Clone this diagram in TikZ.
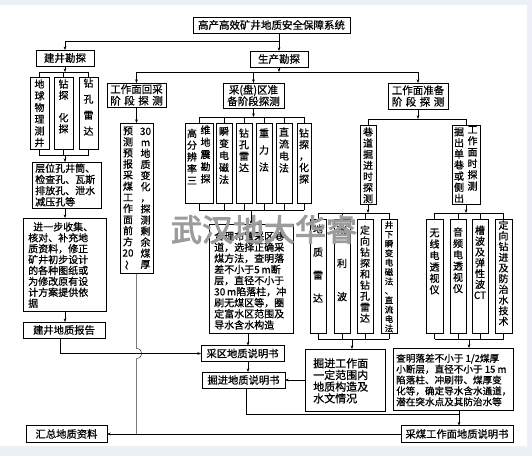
\documentclass[tikz,border=0pt]{standalone}
\usepackage{fontspec}
\usepackage{graphicx}
\setmainfont[FakeBold=0.8]{Noto Sans CJK SC}
\newfontfamily\wmfont[FakeBold=3]{Noto Sans CJK SC}
\usetikzlibrary{arrows.meta,calc}
\definecolor{bord}{HTML}{EDF1F7}
\definecolor{wmgray}{HTML}{9C9C9C}
\newcommand\fsz[2]{\fontsize{#1}{#2}\selectfont}
\newcommand\mybox[7][]{\node[bx,minimum width={(#5-#3)*1pt},minimum height={(#6-#4)*1pt},#1] (#2) at ({(#3+#5)/2},{(#4+#6)/2}) {#7};}
\tikzset{
 bx/.style={draw=black,line width=0.85pt,inner sep=0pt,outer sep=0pt,align=center,font=\fsz{10.3}{12}},
 vt/.style={inner sep=0pt,align=center,font=\fsz{10}{#1}},
 ht/.style={inner sep=0pt,align=left,anchor=west,font=\fsz{10}{#1}},
 ln/.style={line width=0.65pt,draw=black},
 arr/.style={ln,-{Stealth[length=3.6pt,width=2.8pt]}},
}
\begin{document}
\begin{tikzpicture}[x=1pt,y=-1pt]
\fill[bord] (0,0) rectangle (532,456);
\fill[white] (0,5) rectangle (527,446);
\useasboundingbox (0,0) rectangle (532,456);

% ---------- boxes ----------
\mybox[font=\fsz{10.5}{12}]{title}{193}{17}{350}{33}{高产高效矿井地质安全保障系统}
\mybox[font=\fsz{10.5}{12}]{jj}{36}{50}{94}{66}{建井勘探}
\mybox[font=\fsz{10.5}{12}]{sc}{250}{51}{308}{67}{生产勘探}
\mybox{jj1}{30}{77}{49}{149}{}
\mybox{jj2}{54}{77}{73}{149}{}
\mybox{jj3}{79}{77}{98}{149}{}
\mybox{cw}{32}{162}{101}{208}{}
\mybox{jb}{23}{218}{106}{311}{}
\mybox{jr}{23}{322}{105}{338}{建井地质报告}
\mybox{hz}{26}{425.5}{107}{442.5}{汇总地质资料}
\mybox[font=\fsz{10.5}{11.5}]{gh}{107}{83}{166}{107}{工作面回采\\\makebox[5em][s]{阶\hfil 段\hfil 探\hfil 测}}
\mybox{yc}{120}{123}{153}{273}{}
\mybox[font=\fsz{10.5}{11.5}]{cq}{223}{83}{284}{108}{采(盘)区准\\备阶段探测}
\mybox[font=\fsz{10.5}{11.5}]{gz}{388}{83}{448}{109}{工作面准备\\\makebox[5em][s]{阶\hfil 段\hfil 探\hfil 测}}
\mybox{s1}{185}{123}{213}{203}{}
\mybox{s2}{216}{123}{232}{203}{}
\mybox{s3}{236}{123}{252}{203}{}
\mybox{s4}{256}{123}{272}{203}{}
\mybox{s5}{276}{123}{292}{203}{}
\mybox{s6}{297}{123}{311}{203}{}
\mybox{big}{209}{224}{293}{333}{}
\mybox{cqs}{201}{345.5}{284}{361.5}{采区地质说明书}
\mybox{jxs}{202}{372}{285}{388}{掘进地质说明书}
\mybox{hd}{360}{125}{376}{204}{}
\mybox{gc}{452}{125}{480}{204}{}
\mybox{d1}{310}{219}{326}{333}{}
\mybox{d2}{334}{219}{350}{333}{}
\mybox{d3}{357}{219}{373}{333}{}
\mybox{d4}{381}{219}{397}{333}{}
\mybox{g1}{426}{219}{443}{333}{}
\mybox{g2}{450}{219}{466}{333}{}
\mybox{g3}{472}{219}{488}{333}{}
\mybox{g4}{495}{219}{512}{333}{}
\mybox{jw}{305}{349}{385}{411}{}
\mybox{cmq}{393}{348}{513}{410}{}
\mybox{cm}{401}{425.5}{513}{442.5}{采煤工作面地质说明书}

% ---------- texts ----------
\node[vt=11.7] (jj1-t) at (39.5,113.3) {地\\球\\物\\理\\测\\井};
\node[vt=11.2] (jj2-t) at (63.5,106.4) {钻\\探\\\mbox{}\\化\\探};
\node[vt=16] (jj3-t) at (88.5,107) {钻\\孔\\雷\\达};
\node[ht=11.2] (cw-t) at (35,185) {层位孔井筒、\\检查孔、瓦斯\\排放孔、泄水\\减压孔等};
\node[ht=10.9] (jb-t) at (28,265) {\hspace*{5pt}进一步收集、\\核对、补充地\\质资料，修正\\矿井初步设计\\的各种图纸或\\为修改原有设\\计方案提供依\\据};
\node[vt=11.1] (yc-l) at (128,198.3) {预\\测\\预\\报\\采\\煤\\工\\作\\面\\前\\方\\20\\\rotatebox[origin=c]{90}{～}};
\node[vt=11.1] (yc-r) at (145.5,198.3) {30\\m\\地\\质\\变\\化\\，\\探\\测\\剩\\余\\煤\\厚};
\node[vt=11.8] (s1-l) at (192,156.6) {高\\分\\辨\\率\\三};
\node[vt=12.2] (s1-r) at (205.5,154.4) {维\\地\\震\\勘\\探};
\node[vt=12] (s2-t) at (224,155.5) {瞬\\变\\电\\磁\\法};
\node[vt=11.5] (s3-t) at (244,150.3) {钻\\孔\\雷\\达};
\node[vt=17] (s4-t) at (264,150) {重\\力\\法};
\node[vt=12] (s5-t) at (284,150) {直\\流\\电\\法};
\node[vt=11.5] (s6-t) at (304,156) {钻\\探\\，\\化\\探};
\node[ht=11.1] (big-t) at (214,280.5) {合理布置采区巷\\道，选择正确采\\煤方法，查明落\\差不小于5\,m断\\层，直径不小于\\30\,m陷落柱，冲\\刷无煤区等，圈\\定富水区范围及\\导水含水构造};
\node[vt=11.1] (hd-t) at (368,165.3) {巷\\道\\掘\\进\\时\\探\\测};
\node[vt=11.1] (gc-l) at (459,165) {掘\\出\\单\\巷\\或\\侧\\出};
\node[vt=11.3] (gc-r) at (472.5,158.3) {工\\作\\面\\时\\探\\测};
\node[vt=23] (d1-t) at (318,263.5) {地\\质\\雷\\达};
\node[vt=33.3] (d2-t) at (342,263.3) {瑞\\利\\波};
\node[vt=11] (d3-t) at (365,274) {定\\向\\钻\\探\\和\\钻\\孔\\雷\\达};
\node[vt=9.4,font=\fsz{8.5}{9.4}] (d4-t) at (389,276.7) {井\\下\\瞬\\变\\电\\磁\\法\\、\\直\\流\\电\\法};
\node[vt=11.4] (g1-t) at (434.5,261.5) {无\\线\\电\\透\\视\\仪};
\node[vt=11.3] (g2-t) at (458,260.3) {音\\频\\电\\透\\视\\仪};
\node[vt=10.8] (g3-t) at (480,262.4) {槽\\波\\及\\弹\\性\\波\\CT};
\node[vt=10.7] (g4-t) at (503.5,273.2) {定\\向\\钻\\进\\及\\防\\治\\水\\技\\术};
\node[ht=11.7,font=\fsz{11}{11.7}] (jw-t) at (313,380.8) {掘进工作面\\一定范围内\\地质构造及\\水文情况};
\node[ht=10.9,font=\fsz{9.6}{10.9}] (cmq-t) at (396,380) {查明落差不小于 1/2煤厚\\小断层，直径不小于 15 m\\陷落柱、冲刷带、煤厚变\\化等，确定导水含水通道，\\潜在突水点及其防治水等};

% ---------- connectors ----------
\coordinate (j0) at (279,41);
\draw[arr] (title.south -| sc.north) -- (sc.north);
\draw[arr] (j0) -| (jj.north);

\coordinate (b1) at (65,72);
\draw[arr] (jj.south) -- (b1);
\draw[ln] (jj1.north) -- (jj1.north |- b1) -- (jj3.north |- b1) -- (jj3.north);
\draw[ln] (jj2.north) -- (jj2.north |- b1);
\coordinate (b2) at (65,155);
\draw[ln] (jj1.south) -- (jj1.south |- b2) -- (jj3.south |- b2) -- (jj3.south);
\draw[ln] (jj2.south) -- (jj2.south |- b2);
\draw[arr] (b2) -- (b2 |- cw.north);
\draw[arr] (cw.south -| b2) -- (jb.north -| b2);
\draw[arr] (jb.south -| b2) -- (jr.north -| b2);

\coordinate (h1) at (60,353.5);
\draw[arr] (jr.south -| h1) -- (h1) -- (h1 -| cqs.west);

\coordinate (j1) at (136.5,72);
\coordinate (j3) at (418,72);
\draw[arr] (sc.south) -- (sc.south |- j1);
\draw[ln] (j1) -- (j3);
\draw[arr] (j1) -- (gh.north);
\draw[arr] (j1 -| cq.north) -- (cq.north);
\draw[arr] (j3) -- (gz.north);
\draw[arr] (gh.south) -- (yc.north);

\coordinate (hp1) at (136.5,348.5);
\coordinate (hp2) at (136.5,358.5);
\coordinate (hzj) at (136.5,434);
\draw[line width=0.5pt,draw=black!80] (yc.south) -- (hp1) .. controls (143.5,348.5) and (143.5,358.5) .. (hp2) -- (hzj);
\draw[arr] (cm.west) -- (hz.east);

\coordinate (b3) at (253.5,117);
\draw[arr] (cq.south) -- (b3);
\draw[ln] (s1.north |- b3) -- (s6.north |- b3);
\foreach \nm in {s1,s2,s3,s4,s5,s6} \draw[ln] (\nm.north |- b3) -- (\nm.north);
\coordinate (b4) at (251,210);
\draw[ln] (s1.south |- b4) -- (s6.south |- b4);
\foreach \nm in {s1,s2,s3,s4,s5,s6} \draw[ln] (\nm.south) -- (\nm.south |- b4);
\draw[arr] (b4) -- (big.north);

\coordinate (v1) at (248,0);
\draw[arr] (big.south -| v1) -- (cqs.north -| v1);
\draw[arr] (cqs.south -| v1) -- (jxs.north -| v1);
\coordinate (v2) at (246,414);
\coordinate (v3) at (459,414);
\draw[ln] (jxs.south -| v2) -- (v2) -- (v3);
\draw[arr] (cmq.south -| v3) -- (cm.north -| v3);

\coordinate (b5) at (418,119);
\draw[arr] (gz.south) -- (b5);
\draw[ln] (hd.north) -- (hd.north |- b5) -- (gc.north |- b5) -- (gc.north);

\coordinate (b6) at (368,213);
\draw[arr] (hd.south) -- (b6);
\draw[ln] (d1.north |- b6) -- (d4.north |- b6);
\foreach \nm in {d1,d2,d3,d4} \draw[ln] (\nm.north |- b6) -- (\nm.north);
\coordinate (b7) at (352,339);
\draw[ln] (d1.south |- b7) -- (d4.south |- b7);
\foreach \nm in {d1,d2,d3,d4} \draw[ln] (\nm.south) -- (\nm.south |- b7);
\draw[arr] (b7) -- (b7 |- jw.north);
\draw[arr] (jw.west) -- (jw.west -| jxs.east);

\coordinate (b8) at (466,213);
\draw[arr] (gc.south) -- (b8);
\draw[ln] (g1.north |- b8) -- (g4.north |- b8);
\foreach \nm in {g1,g2,g3,g4} \draw[ln] (\nm.north |- b8) -- (\nm.north);
\coordinate (b9) at (469,339);
\draw[ln] (g1.south |- b9) -- (g4.south |- b9);
\foreach \nm in {g1,g2,g3,g4} \draw[ln] (\nm.south) -- (\nm.south |- b9);
\draw[arr] (b9) -- (b9 |- cmq.north);

% ---------- watermark ----------
\node[font=\wmfont\fsz{31}{31},text=wmgray,inner sep=0pt] (wm) at (264,229.5) {武汉地大华睿};
\end{tikzpicture}
\end{document}
